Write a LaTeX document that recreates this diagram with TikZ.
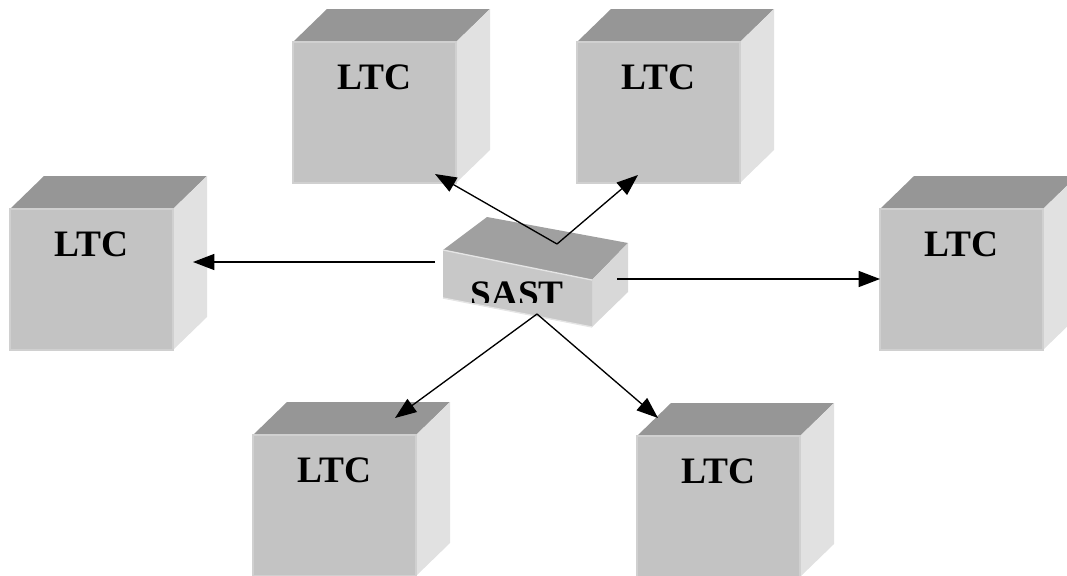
\documentclass[tikz,border=0pt]{standalone}
\usepackage{fontspec}
\setmainfont{Liberation Serif}
\usetikzlibrary{arrows.meta}
\definecolor{cubefront}{HTML}{C3C3C3}
\definecolor{cubetop}{HTML}{969696}
\definecolor{cubeside}{HTML}{E1E1E1}
\definecolor{cubeedge}{HTML}{D0D0D0}
\definecolor{sasttop}{HTML}{A0A0A0}
\definecolor{sastfront}{HTML}{C8C8C8}
\definecolor{sastside}{HTML}{D8D8D8}
\tikzset{
  conn/.style={line width=1pt, -{Triangle[length=16pt,width=12pt]}},
  lbl/.style={font=\fontsize{28}{28}\selectfont\bfseries, anchor=base, inner sep=0pt},
}
\newcommand\ltccube[3]{%
  \fill[cubetop] (#2,#3) -- ++(34,-33) -- ++(163,0) -- ++(-34,33) -- cycle;
  \fill[cubeside] (#2+163,#3) -- ++(34,-33) -- ++(0,141) -- ++(-34,33) -- cycle;
  \filldraw[fill=cubefront, draw=cubeedge, line width=1.5pt] (#2,#3) rectangle ++(163,141);
  \node[lbl] (#1) at (#2+81.5,#3+47) {LTC};
}
\begin{document}
\begin{tikzpicture}[x=0.75pt,y=-0.75pt]
\useasboundingbox (0,0) rectangle (1067,575);
\clip (0,0) rectangle (1067,575);
% LTC cubes
\ltccube{ltcTL}{293}{42}
\ltccube{ltcTR}{577}{42}
\ltccube{ltcL}{10}{209}
\ltccube{ltcR}{880}{209}
\ltccube{ltcBL}{253}{435}
\ltccube{ltcBR}{637}{436}
% SAST box
\fill[sasttop] (443,250) -- (487,217) -- (628,243) -- (592,280) -- cycle;
\fill[sastside] (592,280) -- (628,243) -- (628,292) -- (592,327) -- cycle;
\fill[sastfront] (443,250) -- (592,280) -- (592,327) -- (443,298) -- cycle;
\draw[white!80!gray, line width=1pt] (443,250) -- (592,280);
\draw[white!80!gray, line width=1pt] (443,298) -- (592,327);
\begin{scope}
  \clip (443,240) rectangle (592,302.5);
  \node[lbl] (sast) at (517,306) {SAST};
\end{scope}
% connector end points
\coordinate (sW) at (435,262);
\coordinate (sE) at (617,279);
\coordinate (sTop) at (557,244);
\coordinate (sBot) at (537,314);
\coordinate (tL) at (193,262);
\coordinate (tR) at (880,279);
\coordinate (tTL) at (435,174);
\coordinate (tTR) at (638,175);
\coordinate (tBL) at (395,418);
\coordinate (tBR) at (658,418);
% connectors
\draw[conn] (sW) -- (tL);
\draw[conn] (sE) -- (tR);
\draw[conn] (sTop) -- (tTL);
\draw[conn] (sTop) -- (tTR);
\draw[conn] (sBot) -- (tBL);
\draw[conn] (sBot) -- (tBR);
\end{tikzpicture}
\end{document}
